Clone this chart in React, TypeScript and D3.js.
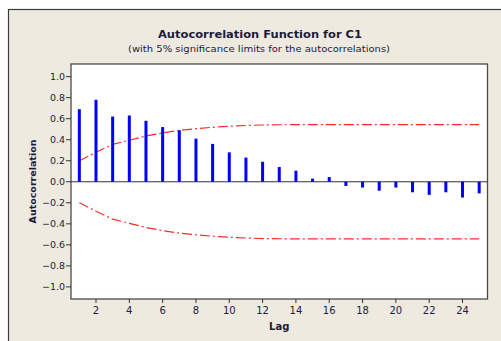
import React, { useEffect, useRef } from 'react';
import * as d3 from 'd3';

// lags 1..25
const lags = d3.range(1, 26);
const acf = [
  0.69, 0.78, 0.62, 0.63, 0.58, 0.52, 0.49, 0.41, 0.36, 0.28, 0.23, 0.19, 0.14,
  0.105, 0.03, 0.045, -0.04, -0.055, -0.085, -0.055, -0.1, -0.125, -0.1, -0.15, -0.11,
];
const upperLimit = [
  0.2, 0.28, 0.355, 0.395, 0.435, 0.465, 0.488, 0.505, 0.518, 0.528, 0.535, 0.54, 0.542,
  0.543, 0.543, 0.543, 0.543, 0.543, 0.543, 0.543, 0.543, 0.543, 0.543, 0.543, 0.543,
];
const lowerLimit = [
  -0.2, -0.28, -0.355, -0.395, -0.435, -0.465, -0.488, -0.505, -0.518, -0.528, -0.535, -0.54, -0.542,
  -0.543, -0.543, -0.543, -0.543, -0.543, -0.543, -0.543, -0.543, -0.543, -0.543, -0.543, -0.543,
];
const yTicks = [1.0, 0.8, 0.6, 0.4, 0.2, 0.0, -0.2, -0.4, -0.6, -0.8, -1.0];
const xTicks = [2, 4, 6, 8, 10, 12, 14, 16, 18, 20, 22, 24];

const W = 501;
const H = 341;
const FONT = "'DejaVu Sans', Verdana, sans-serif";
const INK = '#1c1c3c';

const App = () => {
  const svgRef = useRef<SVGSVGElement>(null);

  useEffect(() => {
    const svg = d3.select(svgRef.current);
    svg.selectAll('*').remove();

    const plot = { left: 71, top: 64, right: 487.5, bottom: 299 };

    const x = d3.scaleLinear().domain([0.5, 25.5]).range([plot.left, plot.right]);
    const y = d3.scaleLinear().domain([-1.115, 1.12]).range([plot.bottom, plot.top]);

    // outer panel
    svg.append('rect')
      .attr('x', 8.5).attr('y', 9.5)
      .attr('width', W + 20).attr('height', H + 20)
      .attr('fill', '#eeeae0')
      .attr('stroke', '#3a3a3a')
      .attr('stroke-width', 1.2);

    // plot area
    svg.append('rect')
      .attr('x', plot.left).attr('y', plot.top)
      .attr('width', plot.right - plot.left).attr('height', plot.bottom - plot.top)
      .attr('fill', '#ffffff')
      .attr('stroke', '#4a4a4a')
      .attr('stroke-width', 1.3);

    // title
    svg.append('text')
      .attr('x', 260).attr('y', 37.5)
      .attr('text-anchor', 'middle')
      .attr('font-family', FONT).attr('font-size', 11).attr('font-weight', 'bold')
      .attr('fill', INK)
      .attr('textLength', 204).attr('lengthAdjust', 'spacingAndGlyphs')
      .text('Autocorrelation Function for C1');
    svg.append('text')
      .attr('x', 259).attr('y', 52)
      .attr('text-anchor', 'middle')
      .attr('font-family', FONT).attr('font-size', 9)
      .attr('fill', INK)
      .attr('textLength', 262).attr('lengthAdjust', 'spacingAndGlyphs')
      .text('(with 5% significance limits for the autocorrelations)');

    // y axis
    const yAxis = svg.append('g');
    yTicks.forEach(t => {
      yAxis.append('line')
        .attr('x1', plot.left - 5).attr('x2', plot.left)
        .attr('y1', y(t)).attr('y2', y(t))
        .attr('stroke', '#333');
      yAxis.append('text')
        .attr('x', plot.left - 6).attr('y', y(t))
        .attr('dy', '0.35em')
        .attr('text-anchor', 'end')
        .attr('font-family', FONT).attr('font-size', 9.5)
        .attr('fill', INK)
        .text(d3.format('.1f')(t));
    });

    // x axis
    const xAxis = svg.append('g');
    xTicks.forEach(t => {
      xAxis.append('line')
        .attr('x1', x(t)).attr('x2', x(t))
        .attr('y1', plot.bottom).attr('y2', plot.bottom + 4)
        .attr('stroke', '#333');
      xAxis.append('text')
        .attr('x', x(t)).attr('y', plot.bottom + 15)
        .attr('text-anchor', 'middle')
        .attr('font-family', FONT).attr('font-size', 10)
        .attr('fill', INK)
        .text(t);
    });

    // axis labels
    svg.append('text')
      .attr('x', (plot.left + plot.right) / 2).attr('y', 330)
      .attr('text-anchor', 'middle')
      .attr('font-family', FONT).attr('font-size', 10).attr('font-weight', 'bold')
      .attr('fill', INK)
      .text('Lag');
    svg.append('text')
      .attr('transform', `translate(36,${(plot.top + plot.bottom) / 2}) rotate(-90)`)
      .attr('text-anchor', 'middle')
      .attr('font-family', FONT).attr('font-size', 9.5).attr('font-weight', 'bold')
      .attr('fill', INK)
      .text('Autocorrelation');

    // zero line
    svg.append('line')
      .attr('x1', plot.left).attr('x2', plot.right)
      .attr('y1', y(0)).attr('y2', y(0))
      .attr('stroke', '#333')
      .attr('stroke-width', 1);

    // significance limits
    const line = d3.line<number>()
      .x((d, i) => x(lags[i]))
      .y(d => y(d));
    [upperLimit, lowerLimit].forEach(lim => {
      svg.append('path')
        .datum(lim)
        .attr('fill', 'none')
        .attr('stroke', '#ff2a2a')
        .attr('stroke-width', 1.2)
        .attr('stroke-dasharray', '10,3,2,3')
        .attr('d', line);
    });

    // acf bars
    svg.selectAll('.bar')
      .data(acf)
      .enter().append('rect')
      .attr('class', 'bar')
      .attr('x', (d, i) => x(lags[i]) - 1.5)
      .attr('y', d => Math.min(y(d), y(0)))
      .attr('width', 3)
      .attr('height', d => Math.abs(y(d) - y(0)))
      .attr('fill', '#0000ff');
  }, []);

  return (
    <div style={{ position: 'absolute', left: 0, top: 0, width: W, height: H, background: '#fff' }}>
      <svg ref={svgRef} width={W} height={H} style={{ display: 'block' }}></svg>
    </div>
  );
};

export default App;
